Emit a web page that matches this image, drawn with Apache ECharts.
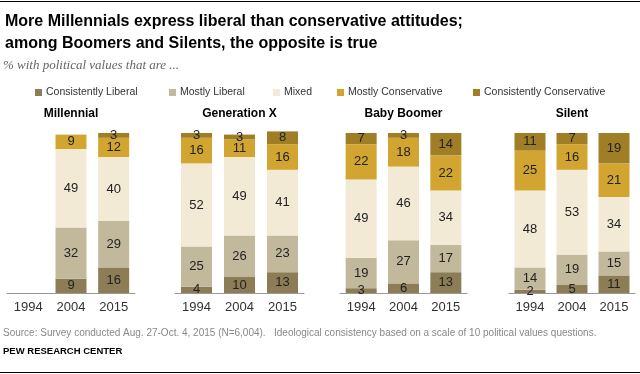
<!DOCTYPE html>
<html>
<head>
<meta charset="utf-8">
<script src="https://cdn.jsdelivr.net/npm/echarts@6/dist/echarts.min.js"></script>
<style>html,body{margin:0;padding:0;background:#fff;}#c{width:640px;height:374px;}</style>
</head>
<body>
<div id="c"></div>
<script>
// ---- data ----
var years = ['1994', '2004', '2015'];
var panels = ['Millennial', 'Generation X', 'Baby Boomer', 'Silent'];
var seriesNames = ['Consistently Liberal', 'Mostly Liberal', 'Mixed', 'Mostly Conservative', 'Consistently Conservative'];
// values per panel (Millennial, Generation X, Baby Boomer, Silent), each 1994/2004/2015
var consistentlyLiberal      = [null, 9, 16,   4, 10, 13,   3, 6, 13,   2, 5, 11];
var mostlyLiberal            = [null, 32, 29,  25, 26, 23,  19, 27, 17, 14, 19, 15];
var mixed                    = [null, 49, 40,  52, 49, 41,  49, 46, 34, 48, 53, 34];
var mostlyConservative       = [null, 9, 12,   16, 11, 16,  22, 18, 22, 25, 16, 21];
var consistentlyConservative = [null, null, 3, 3, 3, 8,     7, 3, 14,  11, 7, 19];

var colors = ['#8c7d57', '#c2b99d', '#f3ead6', '#d2a530', '#a07e25'];
var valueSets = [consistentlyLiberal, mostlyLiberal, mixed, mostlyConservative, consistentlyConservative];

var sans = "'Liberation Sans', Arial, sans-serif";

var gridDefs = [
  {left: 7, width: 128},
  {left: 175, width: 129},
  {left: 340, width: 127},
  {left: 509, width: 126}
];

var grids = [], xAxes = [], yAxes = [], series = [], titles = [];
titles.push({
  text: 'More Millennials express liberal than conservative attitudes;\namong Boomers and Silents, the opposite is true',
  left: 5, top: 11, padding: 0,
  textStyle: {fontSize: 16, fontWeight: 'bold', color: '#000', fontFamily: sans, lineHeight: 22}
});
titles.push({
  text: '% with political values that are ...',
  left: 3, top: 59, padding: 0,
  textStyle: {fontSize: 13, fontStyle: 'italic', fontWeight: 'normal', color: '#666', fontFamily: "'Liberation Serif', 'DejaVu Serif', serif"}
});

gridDefs.forEach(function (g, i) {
  grids.push({left: g.left, width: g.width, top: 133, height: 160, containLabel: false});
  xAxes.push({
    type: 'category', gridIndex: i, data: years,
    axisLine: {lineStyle: {color: '#999', width: 1}},
    axisTick: {show: false},
    axisLabel: {color: '#333', fontSize: 13, fontFamily: sans, margin: 8}
  });
  yAxes.push({type: 'value', gridIndex: i, min: 0, max: 100, show: false, splitLine: {show: false}});
  titles.push({
    text: panels[i], left: g.left + g.width / 2, top: 108, textAlign: 'center', padding: 0,
    textStyle: {fontSize: 12, fontWeight: 'bold', color: '#000', fontFamily: sans}
  });
  seriesNames.forEach(function (name, k) {
    series.push({
      name: name, type: 'bar', stack: 'p' + i, xAxisIndex: i, yAxisIndex: i,
      barWidth: 31, clip: false,
      data: valueSets[k].slice(i * 3, i * 3 + 3),
      itemStyle: {color: colors[k]},
      label: {show: true, position: 'inside', color: '#222', fontSize: 13, fontFamily: sans,
        formatter: function (p) { return p.value == null ? '' : p.value; }},
      emphasis: {disabled: true}
    });
  });
});

var legendLefts = [35, 169, 273, 337, 473];
var legends = seriesNames.map(function (n, k) {
  return {
    data: [n], left: legendLefts[k], top: 87, padding: 0, itemWidth: 7, itemHeight: 7, itemGap: 5,
    icon: 'rect', selectedMode: false,
    textStyle: {fontSize: 10.5, color: '#333', fontFamily: sans, padding: [0, 0, 0, -1]}
  };
});

var chart = echarts.init(document.getElementById('c'), null, {renderer: 'canvas'});
chart.setOption({
  animation: false,
  backgroundColor: '#fff',
  color: colors,
  title: titles,
  legend: legends,
  grid: grids,
  xAxis: xAxes,
  yAxis: yAxes,
  series: series,
  graphic: [
    {type: 'line', shape: {x1: 0, y1: 1.5, x2: 640, y2: 1.5}, style: {stroke: '#000', lineWidth: 1}},
    {type: 'line', shape: {x1: 0, y1: 372.5, x2: 640, y2: 372.5}, style: {stroke: '#000', lineWidth: 1}},
    {type: 'text', left: 3, top: 328, style: {
      text: 'Source: Survey conducted Aug. 27-Oct. 4, 2015 (N=6,004).   Ideological consistency based on a scale of 10 political values questions.',
      fontSize: 10, fill: '#888', fontFamily: sans}},
    {type: 'text', left: 3, top: 346, style: {
      text: 'PEW RESEARCH CENTER', fontSize: 9.5, fontWeight: 'bold', fill: '#000', fontFamily: sans}}
  ]
});
</script>
</body>
</html>
